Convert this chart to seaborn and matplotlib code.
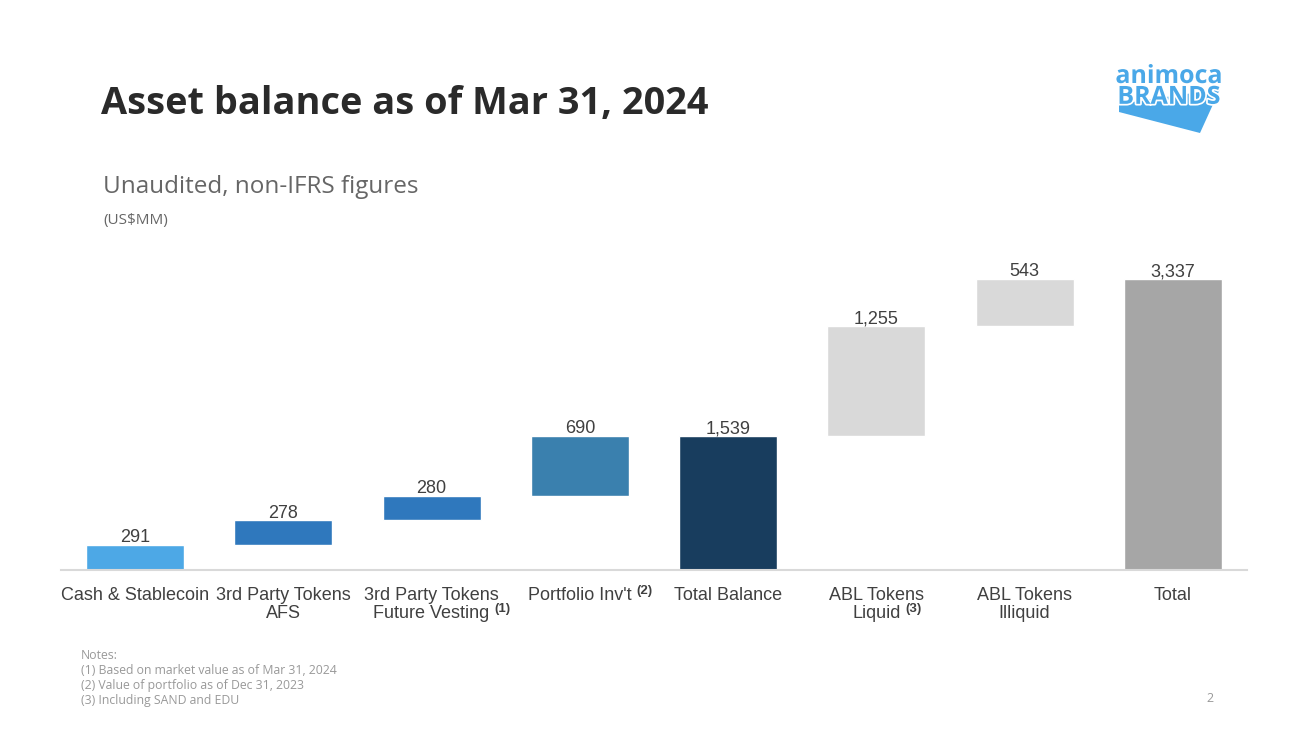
import matplotlib
matplotlib.use("Agg")
import numpy as np
import pandas as pd
import seaborn as sns
import matplotlib.pyplot as plt
from matplotlib.patches import Polygon
from matplotlib.transforms import IdentityTransform
import matplotlib.patheffects as pe

# Waterfall data (US$MM)
categories = ["Cash & Stablecoin", "3rd Party Tokens AFS", "3rd Party Tokens Future Vesting",
              "Portfolio Inv't", "Total Balance", "ABL Tokens Liquid", "ABL Tokens Illiquid", "Total"]
values = [291, 278, 280, 690, 1539, 1255, 543, 3337]
bottoms = [0, 291, 569, 849, 0, 1539, 2794, 0]
tick_labels = ["Cash & Stablecoin", "3rd Party Tokens\nAFS", "3rd Party Tokens\nFuture Vesting",
               "Portfolio Inv't", "Total Balance", "ABL Tokens\nLiquid", "ABL Tokens\nIlliquid", "Total"]
footnote_marks = ["", "", "(1)", "(2)", "", "(3)", "", ""]
colors = ["#4DA8E6", "#2F78BD", "#2F78BD", "#3A80AE", "#183D5E", "#D9D9D9", "#D9D9D9", "#A6A6A6"]

sns.set_style("white")
plt.rcParams["font.family"] = ["Liberation Sans", "DejaVu Sans"]
OPEN = ["Open Sans", "DejaVu Sans"]

df = pd.DataFrame({"category": categories, "value": values})

fig = plt.figure(figsize=(13.14, 7.52), dpi=100)
ax = fig.add_axes([0.0464, 0.242, 0.9026, 0.429])
sns.barplot(data=df, x="category", y="value", hue="category", palette=colors,
            width=0.66, saturation=1, legend=False, ax=ax)

# shift floating bars up to their running base
for patch, b in zip(ax.patches, bottoms):
    patch.set_y(b)

for i, (b, v) in enumerate(zip(bottoms, values)):
    ax.annotate(f"{v:,}", xy=(i, b + v), xytext=(0, 2), textcoords="offset points",
                ha="center", va="baseline", fontsize=13, color="#404040")

ax.set_xlim(-0.5, 7.5)
ax.set_ylim(0, 3700)
ax.set_xticks(range(len(categories)))
ax.set_xticklabels(tick_labels, linespacing=1.1)
ax.tick_params(axis="x", length=0, pad=12, labelsize=13, labelcolor="#404040")
ax.set_yticks([])
ax.set_xlabel("")
ax.set_ylabel("")
for s in ["top", "right", "left"]:
    ax.spines[s].set_visible(False)
ax.spines["bottom"].set_color("#D9D9D9")
ax.spines["bottom"].set_linewidth(1.5)

# footnote marks after the last line of the tick labels
fig.canvas.draw()
renderer = fig.canvas.get_renderer()
for lbl, mark in zip(ax.get_xticklabels(), footnote_marks):
    if not mark:
        continue
    bb = lbl.get_window_extent(renderer)
    last = lbl.get_text().split("\n")[-1]
    tmp = fig.text(0, 0, last, fontsize=13)
    lb = tmp.get_window_extent(renderer)
    tmp.remove()
    xc = (bb.x0 + bb.x1) / 2
    fig.text(xc + lb.width / 2 + 5, bb.y0 + lb.height + 2, mark, fontsize=9.5,
             fontweight="bold", color="#404040", va="top", ha="left",
             transform=IdentityTransform())

W, H = 1314, 752
def fx(x):
    return x / W
def fy(y):
    return 1 - y / H

fig.text(fx(101), fy(114), "Asset balance as of Mar 31, 2024", fontsize=27.3, fontweight="bold",
         family=OPEN, color="#2A2A2A", va="baseline")
fig.text(fx(103), fy(193), "Unaudited, non-IFRS figures", fontsize=17.5,
         family=OPEN, color="#666666", va="baseline")
fig.text(fx(103), fy(224), r"(US\$MM)", fontsize=11,
         family=OPEN, color="#666666", va="baseline")

fig.text(fx(81), fy(649), "Notes:\n(1) Based on market value as of Mar 31, 2024\n"
         "(2) Value of portfolio as of Dec 31, 2023\n(3) Including SAND and EDU",
         fontsize=8.8, family=OPEN, color="#999999", va="top", linespacing=1.2)
fig.text(fx(1206), fy(702), "2", fontsize=9, family=OPEN, color="#999999")

# logo
logo_blue = "#4AA8E8"
poly = Polygon([(fx(1119), fy(104)), (fx(1220), fy(89)), (fx(1200), fy(133)), (fx(1119), fy(112))],
               closed=True, transform=fig.transFigure, facecolor=logo_blue, edgecolor="none")
fig.add_artist(poly)
fig.text(fx(1169), fy(64), "animoca\nBRANDS", fontsize=18, fontweight="bold", color=logo_blue,
         family=OPEN, ha="center", va="top", linespacing=0.78, multialignment="center",
         path_effects=[pe.withStroke(linewidth=2.5, foreground="white")])

fig.savefig("out.png", dpi=100, facecolor="white")
